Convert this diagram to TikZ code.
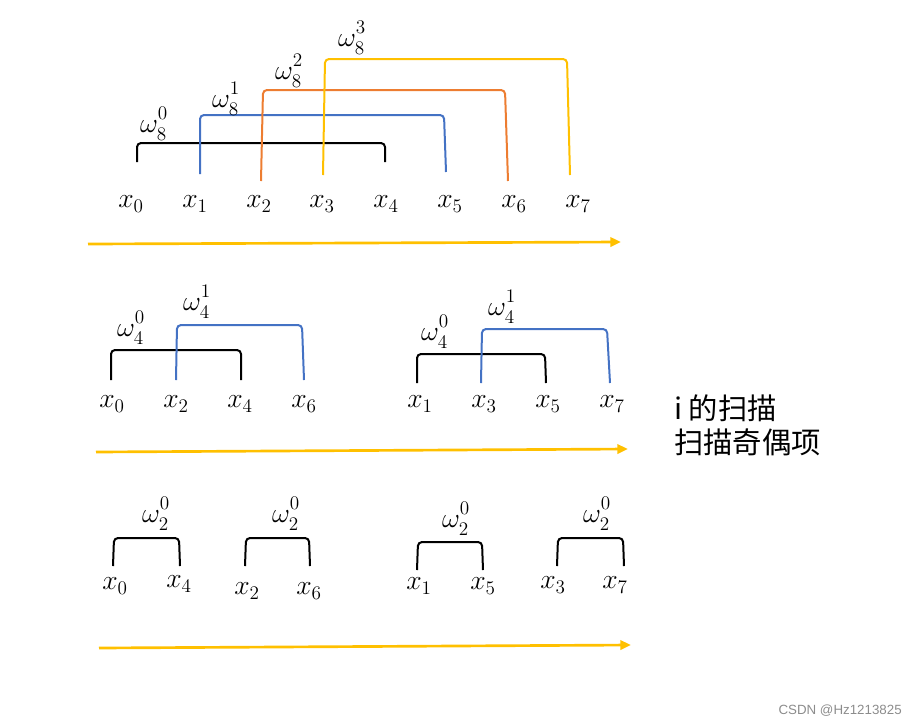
\documentclass[tikz,border=0pt]{standalone}
\usepackage{fontspec}
\newfontfamily\cjk{Noto Sans CJK SC}
\usetikzlibrary{arrows.meta}
\definecolor{cblue}{HTML}{4472C4}
\definecolor{corange}{HTML}{ED7D31}
\definecolor{cgold}{HTML}{FFC000}
\newcommand\wlab[2]{$\omega_{\raisebox{-1.5pt}{$\scriptstyle #1$}}^{\raisebox{2pt}{$\scriptstyle #2$}}$}
\begin{document}
\begin{tikzpicture}[x=0.75pt,y=-0.75pt,
  lbl/.style={inner sep=0pt,font=\fontsize{22}{26}\selectfont},
  wl/.style={inner sep=0pt,font=\fontsize{22}{26}\selectfont},
  brk/.style={line width=1.5pt,rounded corners=3pt},
  scan/.style={draw=cgold,line width=2pt,-{Triangle[length=8pt,width=7pt]}}]
\useasboundingbox (0,0) rectangle (917,726);
% ---- row 1
\foreach \i/\xx in {0/131,1/195,2/259,3/322,4/386,5/450,6/514,7/578}
  \node[lbl] (a\i) at (\xx,204) {$x_{\i}$};
\draw[brk,black]   (137,162) -- (137,143) -- (385,143) -- (385,162);
\draw[brk,cblue]   (200,174) -- (200,115) -- (444,115) -- (446,172);
\draw[brk,corange] (261,181) -- (263,90) -- (505,90) -- (508,181);
\draw[brk,cgold]   (323,175) -- (325,59) -- (567,59) -- (570,175);
\node[wl] (w80) at (154,124) {\wlab{8}{0}};
\node[wl] (w81) at (226,99) {\wlab{8}{1}};
\node[wl] (w82) at (289,71) {\wlab{8}{2}};
\node[wl] (w83) at (352,38) {\wlab{8}{3}};
\coordinate (s1a) at (88,244); \coordinate (s1b) at (621,242);
\draw[scan] (s1a) -- (s1b);
% ---- row 2
\foreach \i/\xx in {0/112,2/176,4/240,6/304}
  \node[lbl] (b\i) at (\xx,404) {$x_{\i}$};
\foreach \i/\xx in {1/420,3/484,5/548,7/612}
  \node[lbl] (b\i) at (\xx,404) {$x_{\i}$};
\draw[brk,black] (111,380) -- (111,350) -- (241,350) -- (241,380);
\draw[brk,cblue] (176,380) -- (177,325) -- (302,325) -- (304,380);
\draw[brk,black] (417,383) -- (417,354) -- (545,354) -- (546,383);
\draw[brk,cblue] (481,383) -- (482,329) -- (607,329) -- (610,383);
\node[wl] (w40a) at (131,328) {\wlab{4}{0}};
\node[wl] (w41a) at (197,302) {\wlab{4}{1}};
\node[wl] (w40b) at (435,332) {\wlab{4}{0}};
\node[wl] (w41b) at (502,307) {\wlab{4}{1}};
\coordinate (s2a) at (96,452); \coordinate (s2b) at (628,449);
\draw[scan] (s2a) -- (s2b);
\node[anchor=west,inner sep=0pt,font=\fontsize{22}{26}\selectfont\cjk] (t1) at (674,408) {i 的扫描};
\node[anchor=west,inner sep=0pt,font=\fontsize{22}{26}\selectfont\cjk] (t2) at (674,442) {扫描奇偶项};
% ---- row 3
\node[lbl] (c0) at (115,586) {$x_{0}$};
\node[lbl] (c4) at (179,584) {$x_{4}$};
\node[lbl] (c2) at (247,591) {$x_{2}$};
\node[lbl] (c6) at (309,591) {$x_{6}$};
\node[lbl] (c1) at (419,586) {$x_{1}$};
\node[lbl] (c5) at (483,586) {$x_{5}$};
\node[lbl] (c3) at (553,585) {$x_{3}$};
\node[lbl] (c7) at (615,585) {$x_{7}$};
\draw[brk,black] (113,566) -- (114,538) -- (179,538) -- (180,566);
\draw[brk,black] (245,566) -- (246,538) -- (309,538) -- (310,566);
\draw[brk,black] (417,570) -- (418,542) -- (482,542) -- (483,570);
\draw[brk,black] (557,566) -- (558,538) -- (623,538) -- (624,566);
\node[wl] (w2a) at (156,514) {\wlab{2}{0}};
\node[wl] (w2b) at (286,514) {\wlab{2}{0}};
\node[wl] (w2c) at (456,519) {\wlab{2}{0}};
\node[wl] (w2d) at (597,514) {\wlab{2}{0}};
\coordinate (s3a) at (99,648); \coordinate (s3b) at (631,645);
\draw[scan] (s3a) -- (s3b);
% watermark
\node[anchor=east,inner sep=0pt,text=black!45,font=\fontsize{10}{12}\selectfont\fontspec{Liberation Sans}] (wm) at (902,711) {CSDN @Hz1213825};
\end{tikzpicture}
\end{document}
